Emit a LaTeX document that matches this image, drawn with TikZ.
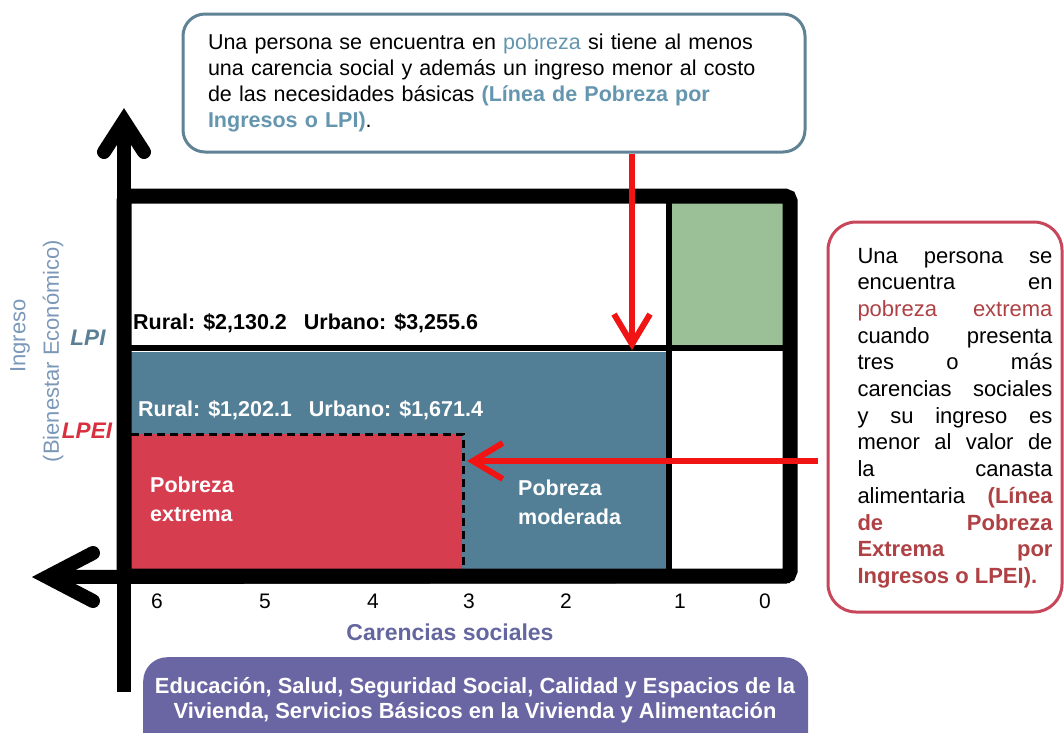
\documentclass[tikz,border=0pt]{standalone}
\usepackage{fontspec}
\setmainfont{Liberation Sans}
\usetikzlibrary{arrows.meta}
\newcommand{\fsz}[2]{\fontsize{#1}{#2}\selectfont}
\definecolor{blueregion}{RGB}{83,127,150}
\definecolor{redregion}{RGB}{214,62,80}
\definecolor{greencell}{RGB}{155,192,151}
\definecolor{purplebox}{RGB}{106,102,163}
\definecolor{carcol}{RGB}{100,102,160}
\definecolor{boxblue}{RGB}{95,130,149}
\definecolor{txtblue}{RGB}{100,150,175}
\definecolor{boxred}{RGB}{200,70,90}
\definecolor{txtred}{RGB}{175,65,68}
\definecolor{lpicol}{RGB}{91,128,150}
\definecolor{lpeicol}{RGB}{217,48,63}
\definecolor{ingcol}{RGB}{124,152,184}
\definecolor{arrowred}{RGB}{240,20,20}
\begin{document}
\begin{tikzpicture}[x=1pt,y=-1pt,
  axisline/.style={line width=14pt},
  chevron/.style={line width=14pt, line cap=round, line join=miter},
  redarrow/.style={draw=arrowred, line width=6pt, -{Straight Barb[length=30pt,width=36pt,line width=6pt]}},
  thinsep/.style={line width=6pt},
  lbl/.style={font=\bfseries\fsz{21.5}{26}, inner sep=0pt},
  num/.style={font=\fsz{21}{25}, inner sep=0pt},
  region/.style={font=\bfseries\fsz{21.5}{29}, text=white, align=left, inner sep=0pt}
]
\useasboundingbox (0,0) rectangle (1064,732);
\clip (0,0) rectangle (1064,732);
% cells
\fill[blueregion] (131,352) rectangle (668,570);
\fill[redregion] (131,434) rectangle (462,570);
\fill[greencell] (669,203) rectangle (783,347);
\draw[thinsep] (124,347.5) -- (790,347.5);
\draw[thinsep] (669,196) -- (669,576);
\draw[line width=3pt, dash pattern=on 8pt off 5pt] (131,434) -- (463,434) -- (463,570);
% frame
\draw[line width=15pt, rounded corners=5pt] (124,196) rectangle (790,576);
% axes
\coordinate (vbot) at (124,692);
\coordinate (vtop) at (124,121);
\coordinate (hright) at (790,576);
\coordinate (hleft) at (47,577);
\draw[axisline] (vbot) -- (vtop);
\draw[chevron] (104,152) -- (vtop) -- (144,152);
\draw[axisline] (hright) -- (hleft);
\draw[chevron] (93,553) -- (hleft) -- (93,601);
% top box
\node[draw=boxblue, line width=3pt, rounded corners=22pt, fill=white,
  minimum width=622pt, minimum height=138pt, text width=572pt, inner xsep=25pt,
  align=left, font=\fsz{21.5}{26}] (topbox) at (494,83)
  {Una persona se encuentra en {\color{txtblue}pobreza} si tiene al menos\\
   una carencia social y además un ingreso menor al costo\\
   de las necesidades básicas {\color{txtblue}\bfseries (Línea de Pobreza por\\
   Ingresos o LPI)}.};
% right box
\node[draw=boxred, line width=3pt, rounded corners=28pt, fill=white,
  minimum width=234pt, minimum height=390pt] (rbox) at (945,417) {};
\node[text width=195pt, align=justify, font=\fsz{22}{26.7}, inner sep=0pt] (rtext) at (955,418)
  {Una persona se\linebreak encuentra en\linebreak
   {\color{txtred}pobreza extrema}\linebreak cuando presenta\linebreak
   tres o más\linebreak carencias sociales\linebreak
   y su ingreso es\linebreak menor al valor de\linebreak
   la canasta\linebreak alimentaria {\color{txtred}\bfseries (Línea\linebreak
   de Pobreza\linebreak Extrema por\linebreak Ingresos o LPEI).}};
% red arrows
\coordinate (vtip) at (632,350);
\coordinate (htip) at (467,461);
\draw[redarrow] (topbox.south -| vtip) -- (vtip);
\draw[redarrow] (rbox.west |- htip) ++(-9,0) -- (htip);
% labels
\node[lbl, anchor=west] (lpival) at (133,323) {Rural: \$2,130.2\hspace{17pt}Urbano: \$3,255.6};
\node[lbl, anchor=west, text=white] (lpeival) at (138,410) {Rural: \$1,202.1\hspace{17pt}Urbano: \$1,671.4};
\node[region, anchor=north west] (pext) at (150,477) {Pobreza\\extrema};
\node[region, anchor=north west] (pmod) at (518,480) {Pobreza\\moderada};
\node[font=\bfseries\itshape\fsz{22.5}{26}, text=lpicol, inner sep=0pt] (lpi) at (88,338) {LPI};
\node[font=\bfseries\itshape\fsz{22.5}{26}, text=lpeicol, inner sep=0pt] (lpei) at (87,431) {LPEI};
\node[rotate=90, font=\fsz{22}{26}, text=ingcol, inner sep=0pt] (ing) at (20,336) {Ingreso};
\node[rotate=90, font=\fsz{22}{26}, text=ingcol, inner sep=0pt] (bien) at (53,351) {(Bienestar Económico)};
% numbers
\foreach \n/\x in {6/157,5/265,4/373,3/469,2/566,1/680,0/765}
  \node[num] (n\n) at (\x,601) {\n};
\node[font=\bfseries\fsz{23}{26}, text=carcol, inner sep=0pt] (car) at (450,632) {Carencias sociales};
% bottom box
\node[fill=purplebox, rounded corners=24pt, minimum width=665pt, minimum height=100pt,
  anchor=north west] (bbox) at (143,657) {};
\node[font=\bfseries\fsz{21.9}{25}, text=white, align=center, inner sep=0pt] (btext) at (475,700)
  {Educación, Salud, Seguridad Social, Calidad y Espacios de la\\
   Vivienda, Servicios Básicos en la Vivienda y Alimentación};
\end{tikzpicture}
\end{document}
